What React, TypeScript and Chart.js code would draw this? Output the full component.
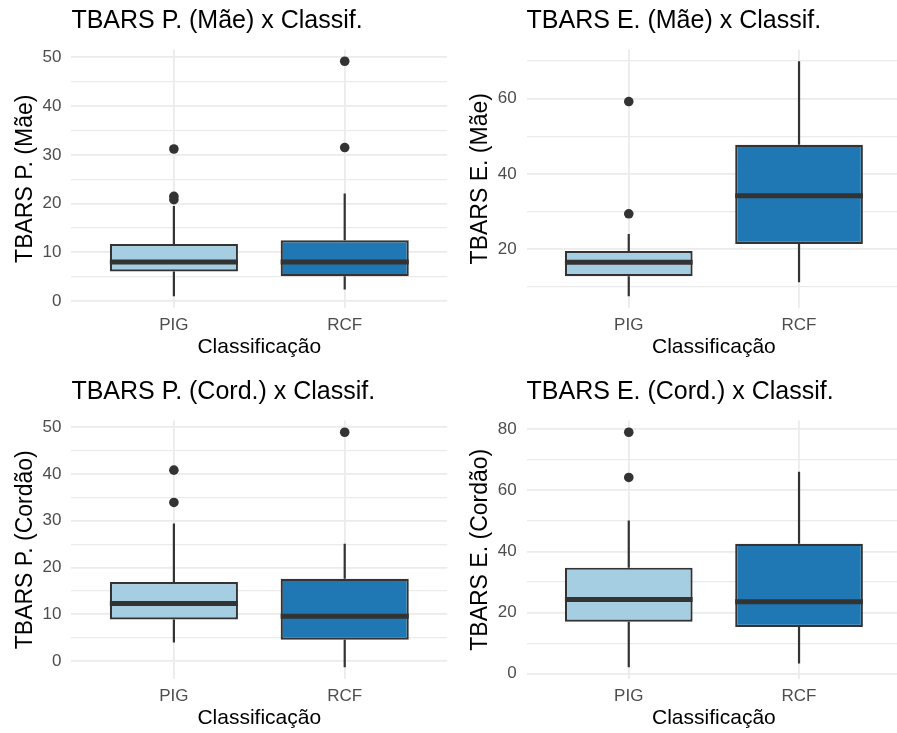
import React, { useEffect, useRef } from "react";
import { Chart, registerables } from "chart.js";

Chart.register(...registerables);
Chart.defaults.font.family = "'Liberation Sans', Arial, sans-serif";

// ---------- data ----------
const categories = ["PIG", "RCF"];
const titles = [
  "TBARS P. (Mãe) x Classif.",
  "TBARS E. (Mãe) x Classif.",
  "TBARS P. (Cord.) x Classif.",
  "TBARS E. (Cord.) x Classif.",
];
const yTitles = ["TBARS P. (Mãe)", "TBARS E. (Mãe)", "TBARS P. (Cordão)", "TBARS E. (Cordão)"];
const xTitle = "Classificação";

// per panel: [PIG, RCF]
const lowerWhiskers = [[1.0, 2.4], [7.5, 11.2], [4.0, -1.3], [2.1, 3.3]];
const q1Values = [[6.1, 5.1], [12.8, 21.4], [8.9, 4.6], [17.0, 15.3]];
const medians = [[8.0, 8.0], [16.5, 34.2], [12.3, 9.6], [24.3, 23.5]];
const q3Values = [[11.7, 12.5], [19.5, 47.7], [16.9, 17.6], [34.7, 42.5]];
const upperWhiskers = [[19.5, 22.1], [24.0, 69.9], [29.4, 25.1], [50.1, 66.1]];
const outliersPIG = [[31.2, 21.5, 20.8], [29.4, 59.2], [33.9, 40.8], [64.2, 79.0]];
const outliersRCF = [[31.5, 49.2], [], [48.9], []];
const majorSteps = [10, 20, 10, 20];
const minorSteps = [5, 10, 5, 10];

// ---------- styles / layout ----------
const FILLS = ["#A6CEE3", "#1F78B4"];
const DARK = "#333333";
const GRID = "#EBEBEB";
const TICK_COLOR = "#4D4D4D";
const CANVAS_H = 371;
const PLOT_BOTTOM = 308;
const COLS = [
  { left: 0, width: 452, axisW: 71.4, padRight: 0.7, yTitlePad: 11.4 },
  { left: 450, width: 456, axisW: 76.6, padRight: 0.3, yTitlePad: 16.4 },
];
const ROWS = [0, 371];

function yRange(p: number): [number, number] {
  const vals = [...lowerWhiskers[p], ...upperWhiskers[p], ...outliersPIG[p], ...outliersRCF[p]];
  const lo = Math.min(...vals);
  const hi = Math.max(...vals);
  const pad = (hi - lo) * 0.05;
  return [lo - pad, hi + pad];
}

function Panel({ p }: { p: number }) {
  const ref = useRef<HTMLCanvasElement>(null);
  const col = COLS[p % 2];
  const rowTop = ROWS[Math.floor(p / 2)];

  useEffect(() => {
    const [ymin, ymax] = yRange(p);
    const major = majorSteps[p];
    const boxPlugin = {
      id: "boxDetails" + p,
      beforeDatasetDraw(chart: any, args: any) {
        if (args.index !== 0) return;
        const ctx = chart.ctx;
        const y = chart.scales.y;
        const meta = chart.getDatasetMeta(0);
        ctx.save();
        ctx.strokeStyle = DARK;
        ctx.lineWidth = 2.2;
        ctx.lineCap = "butt";
        meta.data.forEach((bar: any, i: number) => {
          ctx.beginPath();
          ctx.moveTo(bar.x, y.getPixelForValue(q3Values[p][i]));
          ctx.lineTo(bar.x, y.getPixelForValue(upperWhiskers[p][i]));
          ctx.moveTo(bar.x, y.getPixelForValue(q1Values[p][i]));
          ctx.lineTo(bar.x, y.getPixelForValue(lowerWhiskers[p][i]));
          ctx.stroke();
        });
        ctx.restore();
      },
      afterDatasetDraw(chart: any, args: any) {
        if (args.index !== 0) return;
        const ctx = chart.ctx;
        const y = chart.scales.y;
        const meta = chart.getDatasetMeta(0);
        ctx.save();
        ctx.strokeStyle = DARK;
        ctx.lineWidth = 5;
        ctx.lineCap = "butt";
        meta.data.forEach((bar: any, i: number) => {
          const py = y.getPixelForValue(medians[p][i]);
          ctx.beginPath();
          ctx.moveTo(bar.x - bar.width / 2, py);
          ctx.lineTo(bar.x + bar.width / 2, py);
          ctx.stroke();
        });
        ctx.restore();
      },
    };

    const outlierPoints = [
      ...outliersPIG[p].map((v) => ({ x: 1, y: v })),
      ...outliersRCF[p].map((v) => ({ x: 2, y: v })),
    ];

    const chart = new Chart(ref.current as HTMLCanvasElement, {
      type: "bar",
      data: {
        datasets: [
          {
            type: "bar",
            order: 1,
            data: categories.map((_, i) => ({ x: i + 1, y: [q1Values[p][i], q3Values[p][i]] })) as any,
            backgroundColor: FILLS,
            borderColor: DARK,
            borderWidth: 2.2,
            borderSkipped: false,
            categoryPercentage: 1,
            barPercentage: 0.75,
          } as any,
          {
            type: "scatter",
            order: 0,
            data: outlierPoints,
            pointRadius: 4.8,
            pointBackgroundColor: DARK,
            pointBorderColor: DARK,
            pointBorderWidth: 0,
          } as any,
        ],
      },
      options: {
        animation: false,
        responsive: true,
        maintainAspectRatio: false,
        events: [],
        layout: { padding: { left: 0, right: col.padRight, top: 0, bottom: 0 } },
        plugins: {
          legend: { display: false },
          tooltip: { enabled: false },
          title: {
            display: true,
            text: titles[p],
            align: "start",
            fullSize: false,
            color: "#000000",
            font: { size: 25, weight: "normal" },
            padding: { top: 6, bottom: 13.5 },
          },
        },
        scales: {
          x: {
            type: "linear",
            offset: false,
            min: 0.4,
            max: 2.6,
            afterFit: (s: any) => {
              s.height = CANVAS_H - PLOT_BOTTOM;
            },
            ticks: {
              stepSize: 1,
              includeBounds: false,
              autoSkip: false,
              maxRotation: 0,
              padding: 7,
              color: TICK_COLOR,
              font: { size: 17 },
              callback: (v: any) => categories[Number(v) - 1] ?? "",
            },
            grid: { color: GRID, lineWidth: 1.8, drawTicks: false, offset: false },
            border: { display: false },
            title: {
              display: true,
              text: xTitle,
              color: "#000000",
              font: { size: 21 },
              padding: { top: 0, bottom: 11.4 },
            },
          },
          y: {
            type: "linear",
            min: ymin,
            max: ymax,
            afterFit: (s: any) => {
              s.width = col.axisW;
            },
            ticks: {
              stepSize: minorSteps[p],
              includeBounds: false,
              autoSkip: false,
              maxTicksLimit: 100,
              padding: 10,
              color: TICK_COLOR,
              font: { size: 17 },
              callback: (v: any) => (Number(v) % major === 0 ? String(v) : ""),
            },
            grid: {
              color: GRID,
              lineWidth: (c: any) => (c.tick && c.tick.value % major === 0 ? 1.8 : 1.2),
              drawTicks: false,
            },
            border: { display: false },
            title: {
              display: true,
              text: yTitles[p],
              color: "#000000",
              font: { size: 23 },
              padding: { top: col.yTitlePad, bottom: 0 },
            },
          },
        },
      } as any,
      plugins: [boxPlugin as any],
    });
    return () => chart.destroy();
  }, [p]);

  return (
    <div style={{ position: "absolute", left: col.left, top: rowTop, width: col.width, height: CANVAS_H }}>
      <canvas ref={ref} />
    </div>
  );
}

export default function App() {
  return (
    <div
      style={{
        position: "fixed",
        left: 0,
        top: 0,
        width: 897,
        height: 733,
        overflow: "hidden",
        background: "#ffffff",
      }}
    >
      {[0, 1, 2, 3].map((p) => (
        <Panel key={p} p={p} />
      ))}
    </div>
  );
}
